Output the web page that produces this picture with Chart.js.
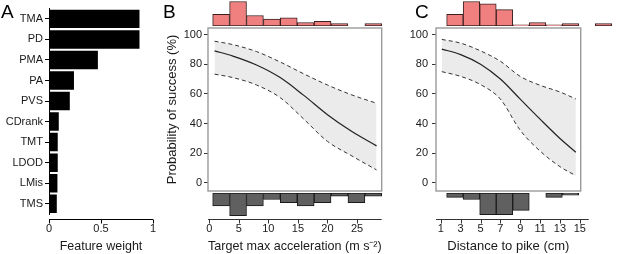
<!DOCTYPE html>
<html><head><meta charset="utf-8">
<script src="https://cdn.jsdelivr.net/npm/chart.js@4.4.1/dist/chart.umd.min.js"></script>
<style>
html,body{margin:0;padding:0;background:#fff;}
#wrap{position:relative;width:617px;height:254px;overflow:hidden;font-family:"Liberation Sans",Arial,sans-serif;}
canvas{position:absolute;}
.lab{position:absolute;font-size:19px;line-height:19px;color:#000;}
</style></head><body>
<div id="wrap">
<canvas id="cA" width="170" height="254" style="left:0;top:0"></canvas>
<canvas id="cB" width="235" height="254" style="left:160px;top:0"></canvas>
<canvas id="cC" width="217" height="254" style="left:400px;top:0"></canvas>
<canvas id="cBt" width="181" height="26" style="left:208px;top:0"></canvas>
<canvas id="cBb" width="181" height="25" style="left:208px;top:193px"></canvas>
<canvas id="cCt" width="181" height="26" style="left:436px;top:0"></canvas>
<canvas id="cCb" width="181" height="25" style="left:436px;top:193px"></canvas>
<div class="lab" style="left:1px;top:2px">A</div>
<div class="lab" style="left:163px;top:2px">B</div>
<div class="lab" style="left:415px;top:2px">C</div>
</div>
<script>
// ---------- Panel A data ----------
const features = ['TMA','PD','PMA','PA','PVS','CDrank','TMT','LDOD','LMis','TMS'];
const weights = [0.87, 0.87, 0.47, 0.24, 0.20, 0.094, 0.084, 0.084, 0.081, 0.075];
const xTicksA = [0, 0.5, 1];

// ---------- Panel B data ----------
const xB = [0.9, 4, 8, 12, 16, 20, 24, 28.3];
const midB = [89, 85.5, 79.5, 71, 59, 46, 35, 25];
const upB = [95.5, 93.2, 88.5, 81.5, 73.5, 66, 59.5, 53.7];
const loB = [73.3, 71, 66, 57.5, 43, 28, 18.5, 8.8];
const binsB = [1.92, 4.67, 7.41, 10.16, 12.90, 15.65, 18.39, 21.14, 23.88, 26.63];
const successB = [10, 21, 9, 6, 7, 3, 4, 2, 0, 2];
const failB = [4, 7, 4, 2, 3, 4, 3, 1, 3, 1];
const xTicksB = [0, 5, 10, 15, 20, 25];

// ---------- Panel C data ----------
const xC = [1.1, 3, 5, 7, 9, 11, 13, 14.6];
const midC = [90.2, 86.5, 80, 70, 56.5, 43, 30, 20.7];
const upC = [96.7, 94.2, 89, 82, 71.8, 65.8, 61.3, 56.6];
const loC = [75, 71.8, 66.3, 56.5, 35.5, 21.5, 11, 4.9];
const binsC = [2.12, 3.52, 4.92, 6.32, 7.72, 9.12, 10.52, 11.92, 13.32, 14.72];
const successC = [10, 21, 19, 14, 1, 3, 1, 2, 0, 2];
const failC = [2, 3, 10, 10, 8, 0, 2, 1, 0, 0];
const xTicksC = [1, 3, 5, 7, 9, 11, 13, 15];

const yTicks = [0, 20, 40, 60, 80, 100];

Chart.defaults.font.family = '"Liberation Sans", Arial, Helvetica, sans-serif';
Chart.defaults.color = '#1a1a1a';

function rAxes(cfg) {
  return { id: 'rAxes', afterDraw(chart) {
    const ctx = chart.ctx, a = chart.chartArea, s = chart.scales.x;
    ctx.save();
    if (cfg.frame) {
      ctx.strokeStyle = '#9a9a9a'; ctx.lineWidth = 1.4;
      ctx.strokeRect(a.left, a.top, a.right - a.left, a.bottom - a.top);
    }
    const y = Math.round(a.bottom + cfg.xOffset) + 0.5;
    ctx.strokeStyle = cfg.color; ctx.lineWidth = 1;
    ctx.beginPath();
    ctx.moveTo(a.left, y); ctx.lineTo(a.right + (cfg.xExtend || 0), y);
    s.ticks.forEach(t => {
      const px = Math.round(s.getPixelForValue(t.value)) + 0.5;
      ctx.moveTo(px, y); ctx.lineTo(px, y + 4);
    });
    ctx.stroke();
    ctx.restore();
  }};
}

const base = { responsive: false, animation: false, devicePixelRatio: 1,
  plugins: { legend: { display: false }, tooltip: { enabled: false }, filler: { drawTime: 'beforeDatasetsDraw' } } };

// ---------- Panel A ----------
new Chart(document.getElementById('cA'), {
  type: 'bar',
  data: { labels: features, datasets: [{ data: weights, backgroundColor: '#000', borderWidth: 0, barPercentage: 0.9, categoryPercentage: 1 }] },
  options: Object.assign({}, base, {
    indexAxis: 'y',
    layout: { padding: { top: 3.5, right: 17, left: 0, bottom: 0 } },
    scales: {
      x: { type: 'linear', min: 0, max: 1,
        afterBuildTicks: s => { s.ticks = xTicksA.map(v => ({ value: v })); },
        afterFit: s => { s.height = 40; },
        grid: { display: false, drawTicks: false }, border: { display: false },
        ticks: { padding: 8.5, font: { size: 11 }, color: '#1a1a1a', maxRotation: 0, callback: v => String(v) },
        title: { display: true, text: 'Feature weight', font: { size: 12.5 }, color: '#1a1a1a', padding: { top: 0, bottom: 0 } } },
      y: { type: 'category',
        afterFit: s => { s.width = 49; },
        grid: { display: true, drawOnChartArea: false, drawTicks: true, tickLength: 4, color: '#000', offset: false },
        border: { display: true, color: '#000', width: 1 },
        ticks: { padding: 2, font: { size: 11 }, color: '#1a1a1a' } }
    }
  }),
  plugins: [rAxes({ frame: false, xOffset: 5, color: '#000' })]
});

function mainChart(id, xs, mid, up, lo, xmin, xmax, xticks, xtitle, ytitle, yWidth, yPad, padL, padR) {
  const pts = arr => xs.map((x, i) => ({ x: x, y: arr[i] }));
  const yTitle = ytitle ? { display: true, text: ytitle, font: { size: 13 }, color: '#1a1a1a', padding: { top: padL, bottom: 0 } } : { display: false };
  return new Chart(document.getElementById(id), {
    type: 'line',
    data: { datasets: [
      { data: pts(mid), borderColor: '#222', borderWidth: 1.2, pointRadius: 0, fill: false, cubicInterpolationMode: 'monotone' },
      { data: pts(up), borderColor: '#333', borderWidth: 1, borderDash: [4, 3], pointRadius: 0, fill: 2, backgroundColor: '#ebebeb', cubicInterpolationMode: 'monotone' },
      { data: pts(lo), borderColor: '#333', borderWidth: 1, borderDash: [4, 3], pointRadius: 0, fill: false, cubicInterpolationMode: 'monotone' }
    ]},
    options: Object.assign({}, base, {
      layout: { padding: { top: 28, right: padR, left: 0, bottom: 0 } },
      scales: {
        x: { type: 'linear', min: xmin, max: xmax,
          afterBuildTicks: s => { s.ticks = xticks.map(v => ({ value: v })); },
          afterFit: s => { s.height = 63; },
          grid: { display: false, drawTicks: false }, border: { display: false },
          ticks: { padding: 31, font: { size: 11 }, color: '#1a1a1a', maxRotation: 0, autoSkip: false },
          title: { display: true, text: xtitle, font: { size: 13 }, color: '#1a1a1a', padding: { top: 0, bottom: 0 } } },
        y: { type: 'linear', min: -5.4, max: 104.4,
          afterBuildTicks: s => { s.ticks = yTicks.map(v => ({ value: v })); },
          afterFit: s => { s.width = yWidth; },
          grid: { display: true, drawOnChartArea: false, drawTicks: true, tickLength: 4, color: '#333' },
          border: { display: false },
          ticks: { padding: yPad, font: { size: 11 }, color: '#1a1a1a' },
          title: yTitle }
      }
    }),
    plugins: [rAxes({ frame: true, xOffset: 28, color: '#333', xExtend: (id === 'cC' ? 8 : 0) })]
  });
}

function hist(id, centers, counts, xmin, xmax, ymax, down, fill, border) {
  return new Chart(document.getElementById(id), {
    type: 'bar',
    data: { datasets: [{ data: centers.map((c, i) => ({ x: c, y: counts[i] })), backgroundColor: fill, borderColor: border, borderWidth: 1, borderSkipped: false, barPercentage: 1, categoryPercentage: 1 }] },
    options: Object.assign({}, base, {
      layout: { padding: 0 },
      scales: {
        x: { type: 'linear', display: false, min: xmin, max: xmax, offset: false,
          afterBuildTicks: s => { s.ticks = centers.map(v => ({ value: v })); } },
        y: { type: 'linear', display: false, min: 0, max: ymax, reverse: down }
      }
    })
  });
}

mainChart('cB', xB, midB, upB, loB, -0.21, 29.17, xTicksB, 'Target max acceleration (m s\u207B\u00B2)', 'Probability of success (%)', 48, 2, 5, 6);
mainChart('cC', xC, midC, upC, loC, 0.517, 15.09, xTicksC, 'Distance to pike (cm)', null, 36, 4, 0, 9);

hist('cBt', binsB, successB, -0.21, 29.17, 22.3, false, '#f08080', '#3b2020');
hist('cBb', binsB, failB, -0.21, 29.17, 7.7, true, '#606060', '#1a1a1a');
hist('cCt', binsC, successC, 0.517, 15.856, 22.3, false, '#f08080', '#3b2020');
hist('cCb', binsC, failC, 0.517, 15.856, 11.5, true, '#606060', '#1a1a1a');
</script>
</body></html>
